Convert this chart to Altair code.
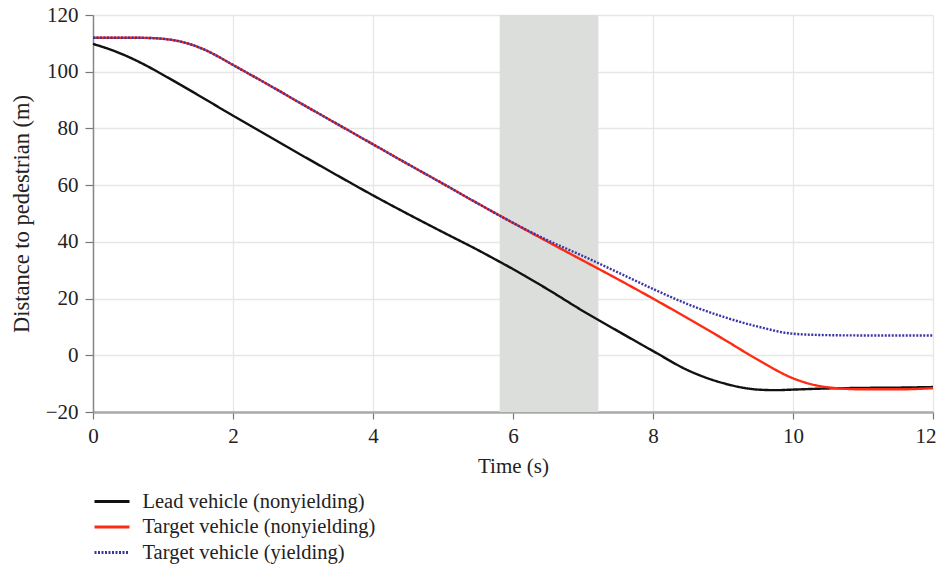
import altair as alt
import pandas as pd

# ---- data ----
series_names = ["Lead vehicle (nonyielding)", "Target vehicle (nonyielding)", "Target vehicle (yielding)"]
series_colors = ["#111111", "#ff2a12", "#3a35a6"]

lead_t = [0, 0.25, 0.5, 0.75, 1, 1.25, 1.5, 2, 2.5, 3, 3.5, 4, 4.5, 5, 5.5, 5.8, 6, 6.5, 7, 7.5, 8, 8.5, 9, 9.5, 9.75, 10, 10.5, 11, 11.5, 12]
lead_y = [109.8, 107.8, 105.3, 102.3, 98.9, 95.4, 91.8, 84.5, 77.4, 70.3, 63.3, 56.4, 49.8, 43.4, 37.1, 33.1, 30.4, 23.2, 15.6, 8.5, 1.5, -5.3, -9.8, -12.1, -12.3, -12.1, -11.7, -11.5, -11.4, -11.2]

tgt_n_t = [0, 0.5, 0.8, 1.0, 1.2, 1.4, 1.6, 1.8, 2, 2.5, 3, 3.5, 4, 4.5, 5, 5.5, 6, 6.5, 7, 7.5, 8, 8.5, 9, 9.5, 10, 10.5, 11, 11.5, 12]
tgt_n_y = [112, 112, 111.9, 111.6, 110.9, 109.6, 107.7, 105.2, 102.4, 95.5, 88.4, 81.4, 74.4, 67.4, 60.5, 53.5, 46.7, 40.0, 33.4, 26.8, 20.0, 13.0, 5.8, -1.6, -8.1, -11.3, -12.0, -12.0, -11.6]

tgt_y_t = [0, 0.5, 0.8, 1.0, 1.2, 1.4, 1.6, 1.8, 2, 2.5, 3, 3.5, 4, 4.5, 5, 5.5, 6, 6.5, 7, 7.5, 8, 8.5, 9, 9.5, 10, 10.5, 11, 11.5, 12]
tgt_y_y = [112, 112, 111.9, 111.6, 110.9, 109.6, 107.7, 105.2, 102.4, 95.5, 88.4, 81.4, 74.4, 67.4, 60.5, 53.5, 46.7, 40.5, 35.0, 29.2, 23.4, 18.0, 13.6, 10.1, 7.6, 7.1, 7.0, 7.0, 7.0]

band_x = [5.81, 7.22]
band_y = [-20, 120]

x_ticks = [0, 2, 4, 6, 8, 10, 12]
y_ticks = [-20, 0, 20, 40, 60, 80, 100, 120]

# ---- build table ----
rows = []
for name, ts, ys in zip(series_names, [lead_t, tgt_n_t, tgt_y_t], [lead_y, tgt_n_y, tgt_y_y]):
    for t, y in zip(ts, ys):
        rows.append({"t": t, "d": y, "series": name})
df = pd.DataFrame(rows)
band = pd.DataFrame({"x1": [band_x[0]], "x2": [band_x[1]], "y1": [band_y[0]], "y2": [band_y[1]]})

FONT = "Liberation Serif"

xscale = alt.Scale(domain=[0, 12], nice=False, zero=False)
yscale = alt.Scale(domain=[-20, 120], nice=False, zero=False)

shade = alt.Chart(band).mark_rect(color="#dcdedc").encode(
    x=alt.X("x1:Q", scale=xscale, title="Time (s)",
            axis=alt.Axis(values=x_ticks, format="d", domainColor="#aaaaaa", domainWidth=2.5,
                          tickColor="#777777", tickSize=7, tickWidth=1.2, labelFlush=False,
                          labelAlign={"expr": "datum.value == 12 ? 'right' : 'center'"},
                          labelOffset={"expr": "datum.value == 12 ? 3 : 0"},
                          gridColor="#e6e6e6", gridWidth=1.3, labelPadding=6, titlePadding=9)),
    x2="x2:Q",
    y=alt.Y("y1:Q", scale=yscale, title="Distance to pedestrian (m)",
            axis=alt.Axis(values=y_ticks, format="d", domainColor="#888888", domainWidth=1.5,
                          tickColor="#777777", tickSize=8, tickWidth=1.2, labelFlush=False,
                          gridColor="#e6e6e6", gridWidth=1.3, labelPadding=7, titlePadding=12,
                          titleFontSize=22.5)),
    y2="y2:Q",
)

leg = alt.Legend(title=None, orient="none", legendX=7.5, legendY=475,
                 symbolType="M-1.75,0H1.75", symbolSize=400, symbolStrokeWidth=3,
                 labelFont=FONT, labelFontSize=20.5, labelColor="#222222", labelLimit=500,
                 labelOffset=19, rowPadding=3.5)

lines = alt.Chart(df).mark_line(strokeWidth=2.4, interpolate="monotone").encode(
    x=alt.X("t:Q", scale=xscale),
    y=alt.Y("d:Q", scale=yscale),
    color=alt.Color("series:N", scale=alt.Scale(domain=series_names, range=series_colors), legend=leg),
    strokeDash=alt.StrokeDash("series:N", scale=alt.Scale(domain=series_names, range=[[1, 0], [1, 0], [2, 1.5]]),
                              legend=leg),
    detail="series:N",
)

chart = alt.layer(shade, lines).properties(
    width=840, height=397,
    autosize=alt.AutoSizeParams(type="none"),
    padding={"left": 85, "top": 7, "right": 3, "bottom": 153},
).configure_view(stroke=None).configure_axis(
    labelFont=FONT, labelFontSize=21, labelColor="#222222",
    titleFont=FONT, titleFontSize=21, titleColor="#222222", titleFontWeight="normal",
)

chart.save("out.html", embed_options={"renderer": "svg", "actions": False})
